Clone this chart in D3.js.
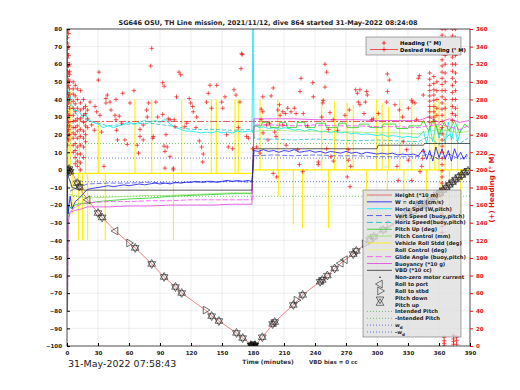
<!DOCTYPE html>
<html>
<head>
<meta charset="utf-8">
<script src="https://d3js.org/d3.v7.min.js"></script>
<style>
  body { margin: 0; background: #fff; }
  text { font-family: "DejaVu Sans", sans-serif; }
</style>
</head>
<body>
<div id="chart"></div>
<script>
// ---- data (time in minutes) ----
var depthT = [0, 3, 6, 10, 15, 20, 30, 34, 47, 60, 66, 82, 94, 105, 111, 134, 140, 147, 164, 170, 176, 180, 184, 189, 201, 210, 219, 228, 238, 247, 259, 268, 277, 293, 306, 325, 340, 348, 361, 375, 387];
var depthV = [0, 0, -3, -7.5, -13, -17, -24.5, -27, -34.7, -41.5, -44.3, -53.4, -60.8, -66.5, -69.9, -79.6, -83, -85.8, -92.6, -95.5, -98, -100, -98.5, -95, -86.4, -81.5, -76.7, -71, -66.5, -62.5, -56, -51.5, -47.8, -39.8, -34, -26.7, -21.5, -19, -13, -6.5, 0];

var wT = [0, 1, 2, 3, 5, 8, 12, 15, 18, 20, 25, 30, 35, 40, 45, 50, 55, 60, 65, 70, 75, 80, 85, 90, 95, 100, 105, 110, 115, 120, 125, 130, 135, 140, 145, 150, 155, 160, 165, 170, 175, 179, 181, 185, 190, 195, 200, 205, 210, 215, 220, 225, 230, 235, 240, 245, 250, 255, 260, 265, 270, 275, 280, 285, 290, 295, 300, 305, 310, 315, 320, 325, 330, 335, 340, 345, 348, 351, 354, 357, 360, 363, 366, 369, 372, 375, 378, 381, 384, 387];
var wV = [0, -25, -20, -15, -22, -18, -16, -14, -12, -11, -10.5, -10, -9.5, -9, -9.5, -9, -8.5, -9, -8.5, -8, -8.5, -8, -7.5, -8, -7.5, -8, -7, -7.5, -7, -7, -6.5, -7, -6.5, -6.5, -7, -6.5, -6, -6.5, -6, -6.5, -6, -6.5, 11, 10.5, 11.5, 10.5, 11, 10, 11, 10.5, 11.5, 10, 10.5, 11, 10, 10.5, 9.5, 10.5, 10, 9.5, 10.5, 9.5, 10, 9, 10, 9.5, 9, 9.5, 9, 9.5, 8.5, 9, 8.5, 9, 8, 12, 6, 11, 5, 13, 7, 12, 6, 11, 5, 12, 7, 10, 6, 9];

var vsT = [3, 10, 20, 40, 60, 80, 100, 120, 140, 160, 179, 181, 200, 220, 240, 260, 280, 300, 320, 340, 350, 360, 370, 380, 388];
var vsV = [-12, -10, -8, -7.5, -7.5, -7, -7.5, -7, -7, -6.5, -7, 8, 8.5, 8, 8.5, 8, 8, 7.5, 7.5, 7.5, 9, 6, 9, 6, 8];

var hsT = [0, 1, 2, 3, 5, 8, 12, 15, 18, 20, 25, 30, 35, 40, 45, 50, 55, 60, 65, 70, 75, 80, 85, 90, 95, 100, 105, 110, 115, 120, 125, 130, 135, 140, 145, 150, 155, 160, 165, 170, 175, 179, 180, 181, 183, 186, 190, 195, 200, 205, 210, 215, 220, 225, 230, 235, 240, 245, 250, 255, 260, 265, 270, 275, 280, 285, 290, 295, 300, 305, 310, 315, 320, 325, 330, 335, 340, 345, 348, 351, 354, 357, 360, 363, 366, 369, 372, 375, 378, 381, 384, 387];
var hsV = [30, 45, 38, 42, 36, 34, 33, 30, 32, 29, 27, 26, 24, 25, 24, 25, 26, 27, 26, 27, 28, 27, 28, 27, 29, 26, 24, 23, 22, 22, 21.5, 21, 21.5, 21, 22, 21, 21.5, 21, 22, 21.5, 22, 22, 85, 24, 25, 24, 24.5, 23.5, 24, 23, 24, 23.5, 22.5, 23, 22, 23, 22.5, 21.5, 22, 21, 22, 21, 21.5, 20.5, 21, 20, 20.5, 20, 19.5, 20, 19, 19.5, 19, 18.5, 19, 18.5, 18.5, 22, 15, 25, 16, 26, 18, 24, 15, 27, 17, 25, 16, 23];

var hbT = [2, 10, 20, 40, 60, 80, 100, 120, 140, 160, 179, 182, 200, 220, 240, 260, 280, 300, 320, 340, 350, 360, 370, 380, 388];
var hbV = [38, 31, 28, 25, 26, 26.5, 25, 23, 23, 22.5, 23, 17.5, 17.5, 17, 17.5, 17, 16.5, 17, 16.5, 16, 19, 14, 20, 15, 18];

var pitchT = [0, 0.5, 1, 2, 4, 8, 12, 16, 20, 30, 40, 50, 60, 80, 100, 120, 140, 160, 179, 181, 188, 189, 196, 197, 205, 206, 212, 213, 222, 223, 230, 231, 240, 241, 250, 251, 262, 263, 270, 271, 282, 283, 292, 293, 305, 306, 318, 319, 330, 331, 342, 345, 350, 355, 360, 365, 370, 375, 380, 385, 389];
var pitchV = [0, -80, -25, -20, -22, -20, -19, -19, -19, -18, -17.5, -17, -16.5, -16, -15, -14.5, -14, -13.5, -13.5, 25, 25, 27, 27, 24, 24, 27, 27, 24, 24, 27, 27, 24, 24, 26.5, 26.5, 24, 24, 26.5, 26.5, 24, 24, 26, 26, 24, 24, 26, 26, 23.5, 23.5, 25, 25, 28, 22, 29, 20, 27, 22, 28, 21, 26, 24];

var pcT = [2, 20, 40, 60, 80, 100, 120, 140, 160, 179, 181, 200, 220, 240, 260, 280, 300, 320, 340, 360, 380, 389];
var pcV = [-14, -16, -15.5, -15, -14.5, -14.5, -14, -13.5, -13, -13, 22, 22.5, 22, 22, 21.5, 21.5, 21, 21, 20.5, 23, 21, 22];

var glideT = [0, 0.5, 1, 3, 8, 15, 25, 40, 60, 80, 100, 120, 140, 160, 179, 181, 200, 220, 240, 260, 280, 300, 320, 340, 360, 380, 389];
var glideV = [0, -75, -28, -24, -21, -19, -18.5, -18, -18, -17.5, -17.5, -17, -17, -17, -17, 25.5, 25.5, 25, 25.5, 25, 25, 24.5, 24.5, 24, 26, 23, 25];

var buoyT = [0, 0.5, 1, 3, 8, 15, 20, 40, 60, 80, 100, 120, 140, 160, 179, 181, 200, 220, 240, 260, 280, 300, 320, 340, 350, 360, 370, 380, 389];
var buoyV = [0, -78, -30, -24, -23, -22, -21, -21, -20.5, -20.5, -20, -20, -20, -19.5, -19.5, 29, 29, 29, 28.5, 28.5, 28.5, 28, 28, 28, 30, 27, 29, 27, 28];

var vbdT = [0, 2, 5, 10, 18, 179, 180.5, 300, 301, 345, 346, 390];
var vbdV = [0, -5, -10, -11, -11.5, -11.5, 12, 12, 14, 14, 15, 15];

var rollBaseT = [0, 20, 179, 181, 390];
var rollBaseV = [-2, -2, -2, 0, 0];
var rollSpikeT = [1, 3, 5, 11, 12, 15, 18, 20, 30.3, 37, 65.8, 82, 103, 111, 139.6, 144.5, 162.6, 165.8, 186.8, 204, 204.5, 219, 228, 246.5, 253, 259, 271, 277, 290, 299.7, 305, 310, 311, 322, 326, 333.6, 348, 351, 356, 360, 362, 366, 370, 372, 378, 381];
var rollSpikeV = [35, 45, -25, -40, 30, -40, 38, -40, 27, -40, 40, 40, -40, 40, 40, 40, 40, 40, 40, 40, -15, -31, -33, 40, -33, 39, 38, 37, -20, 40, 38, -12, 36, 40, -22, 41, -25, 37, 38, 40, -26, 38, -28, 39, 37, -25];

var intendedPitch = 15;
var wd = 6.7;

// heading (deg M) samples
var headT = [82, 81, 31, 30.3, 108.4, 110, 169, 168.4, 92.6, 94, 86, 79, 77, 77.7, 64.8, 61, 53.9, 47.4, 39, 37.7, 41.6, 42.6, 46.4, 50.6, 47.4, 52.9, 48, 48.9, 56, 58.3, 68, 69.2, 70.6, 70.6, 73.8, 83.5, 83, 87.8, 92.6, 98, 95.8, 97, 99.7, 102.9, 106, 104.5, 114, 115.8, 118.3, 119.7, 121.6, 122.2, 125.5, 124.8, 128, 130.3, 131.9, 131.3, 135, 136.7, 138.4, 144.9, 140, 150.7, 152.9, 149.7, 154.5, 156.1, 160.3, 161.6, 163.5, 167.4, 165.8, 173.9, 175.5, 28.7, 31.9, 37.7, 22.3, 27.1, 23.9, 26.4, 33.5, 35.8, 73.8, 93.9, 94.8, 94.8, 102.9, 103.8, 99.7, 169.6, 179.7, 183.6, 186.8, 189.7, 194.5,
  199.6, 197.6, 189.5, 187.9, 204, 205.6, 206.2, 208.8, 211.3, 213.6, 216.8, 220, 221.7, 226.5, 225.5, 228.7, 237.8, 238.4, 249.7, 251.3, 249.7, 248, 247.5, 246.5, 254.5, 257.7, 261.9, 252.9, 251.3, 255.2, 257.7, 243.2, 243.2, 279.4, 281, 283.5, 281.9, 283.5, 290, 290.6, 288.7, 287.4, 269, 273.2, 294.8, 296.4, 301.3, 310, 311.9, 310.3, 309.3, 317.4, 321.6, 324.8, 330.3, 333.6, 334.5, 340, 341, 344.8, 336.8, 338.4, 319.4, 325.4, 328.7, 330.3, 320.6, 333.6, 341.6, 343.3, 344.2, 344.8, 272.2, 272.2, 274.5, 271.2, 273.9, 199.6, 202.9, 202.3, 189.5, 187.9, 223.3, 224.9, 228.1, 232.9, 212, 208.8, 193.3, 196, 201];
var headV = [338, 318, 311, 302, 311, 308, 332, 315, 299, 295, 277, 276, 268, 260, 290, 276, 287, 280, 285, 281, 277, 268, 262, 261, 257, 253, 245, 234, 234, 229, 228, 219, 238, 246, 251, 238, 236, 260, 263, 258, 240, 226, 215, 202, 283, 249, 249, 253, 281, 276, 272, 266, 260, 248, 233, 226, 218, 209, 277, 287, 296, 296, 270, 270, 283, 277, 240, 226, 224, 291, 285, 277, 248, 238, 236, 266, 262, 276, 277, 272, 251, 245, 243, 204, 234, 227, 221, 202, 200, 257, 257, 331, 224, 226, 219, 242, 234,
  293, 284, 266, 257, 268, 274, 262, 266, 264, 270, 266, 270, 264, 304, 289, 264, 299, 283, 320, 311, 294, 279, 276, 260, 265, 257, 245, 246, 224, 215, 210, 209, 206, 291, 287, 291, 277, 274, 289, 285, 277, 264, 262, 268, 257, 258, 264, 309, 302, 289, 277, 274, 268, 260, 270, 279, 277, 304, 307, 285, 276, 257, 204, 232, 223, 211, 188, 188, 198, 204, 213, 221, 223, 211, 204, 192, 181, 196, 192, 238, 283, 269, 223, 206, 198, 250, 228, 251, 251, 253, 243];

// heading while at the surface (start and end of dive)
var surfT = [0.5, 0.5, 0.5, 0.5, 0.5, 0.5, 0.5, 0.5, 0.5, 0.5, 0.5, 0.5, 0.5, 0.5, 0.5, 0.5, 0.5, 0.5, 0.5, 0.5, 0.5,
  1.5, 1.5, 1.5, 1.5, 1.5, 1.5, 1.5, 1.5, 1.5, 1.5, 1.5, 1.5, 1.5, 1.5,
  2.5, 2.5, 2.5, 2.5, 2.5, 2.5, 2.5, 2.5, 2.5, 2.5, 2.5,
  6, 6, 6, 6, 6, 6, 6, 6, 6, 6, 6, 6,
  8, 8, 8, 8, 8, 8, 8, 8, 8, 8, 8,
  10, 10, 10, 10, 10, 10, 10, 10, 10, 10, 10,
  13, 13, 13, 13, 13, 13, 13, 13, 13, 13,
  16, 16, 16, 16, 16, 16, 16, 16,
  18, 18, 18, 18, 18,
  20, 20, 20,
  351, 351, 351, 351, 351, 351, 351, 351, 351, 351,
  355, 355, 355, 355, 355, 355, 355, 355, 355,
  358, 358, 358, 358, 358,
  363, 363, 363, 363, 363, 363, 363, 363, 363, 363, 363, 363, 363, 363, 363, 363, 363, 363, 363, 363, 363, 363, 363, 363, 363, 363, 363, 363, 363, 363, 363, 363, 363, 363,
  365, 365, 365, 365,
  366, 366, 366, 366, 366, 366, 366, 366, 366, 366,
  373, 373, 373, 373, 373, 373, 373, 373, 373, 373, 373, 373, 373, 373,
  374, 374, 374, 374,
  376, 376, 376, 376, 376, 376, 376, 376, 376, 376, 376,
  377, 377, 377];
var surfV = [358, 350, 344, 337, 332, 327, 322, 318, 312, 306, 300, 294, 288, 280, 272, 266, 258, 250, 244, 236, 228,
  355, 340, 330, 318, 310, 302, 296, 284, 276, 262, 254, 246, 240, 234,
  320, 312, 308, 300, 292, 286, 280, 270, 262, 250, 240,
  300, 292, 286, 278, 270, 262, 255, 248, 242, 236, 228, 220,
  296, 284, 275, 266, 256, 248, 240, 230, 222, 214, 207,
  292, 280, 270, 258, 250, 244, 236, 226, 218, 210, 204,
  290, 276, 268, 258, 246, 238, 228, 218, 208, 200,
  280, 270, 262, 254, 244, 236, 226, 214,
  272, 264, 250, 240, 232,
  268, 258, 248,
  310, 303, 296, 290, 284, 278, 272, 266, 260, 254,
  306, 298, 291, 285, 279, 272, 266, 260, 255,
  300, 290, 280, 270, 262,
  360, 353, 346, 339, 332, 325, 318, 311, 304, 297, 290, 283, 276, 269, 262, 255, 248, 241, 234, 227, 220, 213, 206, 199, 192, 185, 178, 171, 164, 157, 150, 143, 136, 129,
  10, 6, 3, 0,
  360, 350, 340, 330, 320, 310, 300, 290, 280, 270,
  360, 352, 344, 336, 328, 320, 312, 304, 296, 288, 280, 272, 264, 256,
  12, 8, 5, 2,
  360, 350, 340, 330, 320, 310, 300, 290, 280, 270, 262,
  10, 6, 2];

var desiredT = [0, 362];
var desiredV = [255, 255];

// pitch / roll event markers on the depth trace
var pitchMarkT = [0, 1, 2, 3, 10, 12, 30, 34, 66, 82, 94, 105, 111, 140, 147, 164, 170, 189, 199, 201, 219, 228, 245, 247, 252, 259, 277, 280, 293, 297, 306, 325, 330, 335, 340, 343, 346, 349, 352, 355, 358, 361, 364, 367, 370, 373, 376, 379, 382, 385, 388];
var pitchMarkV = [0, -0.5, 0.5, -1, -7.5, -9.5, -24.5, -27, -44.3, -53.4, -60.8, -66.5, -69.9, -83, -85.8, -92.6, -95.5, -95, -87.5, -86.4, -76.7, -71, -63.5, -62.5, -60, -56, -47.8, -46, -39.8, -38, -34, -26.7, -25, -23.5, -21.5, -20.5, -19.5, -18.5, -17, -15.5, -14, -13, -11.5, -10, -8.5, -7, -5.5, -4, -3, -1.5, -0.5];
var rollPortT = [20, 47, 265, 269];
var rollPortV = [-17, -34.7, -53, -51];
var rollStbdT = [60, 134, 222, 288, 312];
var rollStbdV = [-41.5, -79.6, -74, -42, -31];
var bottomT = [178, 179, 180, 181, 182];
var bottomV = [-99.5, -100, -100, -100, -99.5];

// ---- layout ----
var W = 520, H = 390;
var svg = d3.select("#chart").append("svg").attr("width", W).attr("height", H);

var x = d3.scaleLinear().domain([0, 390]).range([67, 470]);
var yL = d3.scaleLinear().domain([-100, 80]).range([346, 29]);
var yR = d3.scaleLinear().domain([0, 360]).range([346, 29]);

svg.append("clipPath").attr("id", "clip").append("rect")
  .attr("x", 67).attr("y", 29).attr("width", 403).attr("height", 317);

// grid
var grid = svg.append("g");
grid.selectAll(".gx").data(d3.range(30, 390, 30)).enter().append("line")
  .attr("x1", d => x(d)).attr("x2", d => x(d)).attr("y1", 29).attr("y2", 346)
  .attr("stroke", "#e2e2e2").attr("stroke-width", 0.6);
grid.selectAll(".gy").data(d3.range(-90, 80, 10)).enter().append("line")
  .attr("x1", 67).attr("x2", 470).attr("y1", d => yL(d)).attr("y2", d => yL(d))
  .attr("stroke", "#e2e2e2").attr("stroke-width", 0.6);

var plot = svg.append("g").attr("clip-path", "url(#clip)");

function drawLine(ts, vs, color, width, dash, ys) {
  var pts = ts.map((t, i) => [t, vs[i]]);
  var line = d3.line().x(d => x(d[0])).y(d => (ys || yL)(d[1]));
  plot.append("path").attr("d", line(pts)).attr("fill", "none")
    .attr("stroke", color).attr("stroke-width", width)
    .attr("stroke-dasharray", dash || null);
}

// roll (yellow) spikes
plot.selectAll(".spike").data(rollSpikeT).enter().append("line")
  .attr("x1", d => x(d)).attr("x2", d => x(d))
  .attr("y1", (d, i) => yL(d < 180 ? -2 : 0)).attr("y2", (d, i) => yL(rollSpikeV[i]))
  .attr("stroke", "#ffee00").attr("stroke-width", 1.1);
drawLine(rollBaseT, rollBaseV, "#ffee00", 1.2);

// reference lines
[intendedPitch, -intendedPitch].forEach(v => drawLine([0, 390], [v, v], "#55bb55", 0.8, "1,2"));
[wd, -wd].forEach(v => drawLine([0, 390], [v, v], "#4a5ad8", 0.8, "1,2"));

drawLine(desiredT, desiredV, "#e03030", 0.8, "7,2,2,2", yR);

drawLine(hbT, hbV, "#00b8c8", 0.7, "4,2");
drawLine(hsT, hsV, "#00e8f0", 0.8);
drawLine(pcT, pcV, "#90e060", 0.7);
drawLine(pitchT, pitchV, "#22cc22", 0.8);
drawLine(glideT, glideV, "#ff40ff", 0.8, "5,2");
drawLine(buoyT, buoyV, "#e040e0", 0.8);
drawLine(vsT, vsV, "#3344ee", 0.7, "5,2");
drawLine(wT, wV, "#1010f0", 0.8);
drawLine(vbdT, vbdV, "#333333", 0.8);
drawLine(depthT, depthV, "#e85050", 0.7);

// heading markers (+)
var plus = "M-2.2,0H2.2M0,-2.2V2.2";
function plusMarks(ts, vs) {
  plot.append("g").selectAll("path").data(ts).enter().append("path")
    .attr("d", plus)
    .attr("transform", (d, i) => "translate(" + x(d) + "," + yR(vs[i]) + ")")
    .attr("stroke", "#ee1111").attr("stroke-width", 0.7).attr("fill", "none");
}
plusMarks(headT, headV);
plusMarks(surfT, surfV);

// event markers
var tri = d3.symbol().type(d3.symbolTriangle).size(26);
function triMarks(ts, vs, rot, fill) {
  plot.append("g").selectAll("path").data(ts).enter().append("path")
    .attr("d", tri())
    .attr("transform", (d, i) => "translate(" + x(d) + "," + yL(vs[i]) + ") rotate(" + rot + ")")
    .attr("fill", fill || "none").attr("stroke", "#222").attr("stroke-width", 0.65);
}
triMarks(pitchMarkT, pitchMarkV, 0);
triMarks(pitchMarkT, pitchMarkV, 180);
triMarks(rollPortT, rollPortV, -90);
triMarks(rollStbdT, rollStbdV, 90);
triMarks(bottomT, bottomV, 0, "#111");
triMarks(bottomT, bottomV, 180, "#111");

// frame
svg.append("rect").attr("x", 67).attr("y", 29).attr("width", 403).attr("height", 317)
  .attr("fill", "none").attr("stroke", "#222").attr("stroke-width", 0.8);

// axes
var axL = svg.append("g").attr("transform", "translate(67,0)")
  .call(d3.axisLeft(yL).tickValues(d3.range(-100, 81, 10)).tickSize(-3).tickPadding(5));
var axB = svg.append("g").attr("transform", "translate(0,346)")
  .call(d3.axisBottom(x).tickValues(d3.range(0, 391, 30)).tickSize(-3).tickPadding(5));
var axR = svg.append("g").attr("transform", "translate(470,0)")
  .call(d3.axisRight(yR).tickValues(d3.range(0, 361, 20)).tickSize(3).tickPadding(3));
[axL, axB, axR].forEach(a => {
  a.select(".domain").remove();
  a.selectAll("text").attr("font-size", 5.5).attr("font-weight", "bold")
    .attr("font-family", "DejaVu Sans, sans-serif");
});
axL.selectAll("text").attr("fill", "#222");
axB.selectAll("text").attr("fill", "#222");
axR.selectAll("line").attr("stroke", "#dd1111");
axR.selectAll("text").attr("fill", "#dd1111");

// texts
svg.append("text").attr("x", 268).attr("y", 25).attr("text-anchor", "middle")
  .attr("font-size", 6.5).attr("font-weight", "bold").attr("fill", "#222")
  .text("SG646 OSU, TH Line mission, 2021/11/12, dive 864 started 31-May-2022 08:24:08");
svg.append("text").attr("x", 268).attr("y", 364).attr("text-anchor", "middle")
  .attr("font-size", 6).attr("font-weight", "bold").attr("fill", "#333")
  .text("Time (minutes)");
svg.append("text").attr("x", 309).attr("y", 364)
  .attr("font-size", 5.5).attr("font-weight", "bold").attr("fill", "#333")
  .text("VBD bias = 0 cc");
svg.append("text").attr("x", 68).attr("y", 367)
  .attr("font-size", 9.5).attr("fill", "#222")
  .text("31-May-2022 07:58:43");
svg.append("text").attr("transform", "translate(494,188) rotate(-90)").attr("text-anchor", "middle")
  .attr("font-size", 7).attr("font-weight", "bold").attr("fill", "#dd1111")
  .text("(+) Heading (\u00b0 M)");

// heading legend
var lg1 = svg.append("g");
lg1.append("rect").attr("x", 366).attr("y", 37).attr("width", 95).attr("height", 18)
  .attr("fill", "#e6e6e6").attr("stroke", "#555").attr("stroke-width", 0.5);
lg1.append("path").attr("d", plus).attr("transform", "translate(384,43)")
  .attr("stroke", "#ee1111").attr("stroke-width", 0.8);
lg1.append("line").attr("x1", 370).attr("x2", 398).attr("y1", 49.5).attr("y2", 49.5)
  .attr("stroke", "#ee1111").attr("stroke-width", 0.7);
lg1.append("path").attr("d", plus).attr("transform", "translate(384,49.5)")
  .attr("stroke", "#ee1111").attr("stroke-width", 0.8);
lg1.append("text").attr("x", 400).attr("y", 45).attr("font-size", 5.3).attr("font-weight", "bold").text("Heading (\u00b0 M)");
lg1.append("text").attr("x", 400).attr("y", 51.5).attr("font-size", 5.3).attr("font-weight", "bold").text("Desired Heading (\u00b0 M)");

// main legend
var items = [
  { label: "Height (*10 m)", color: "#e85050" },
  { label: "W = dz/dt (cm/s)", color: "#1010f0" },
  { label: "Horiz Spd (W,pitch)", color: "#00e8f0" },
  { label: "Vert Speed (buoy,pitch)", color: "#3344ee", dash: "6,3" },
  { label: "Horiz Speed(buoy,pitch)", color: "#00b8c8", dash: "6,3" },
  { label: "Pitch Up (deg)", color: "#22cc22" },
  { label: "Pitch Control (mm)", color: "#90e060" },
  { label: "Vehicle Roll Stdd (deg)", color: "#ffee00" },
  { label: "Roll Control (deg)", color: "#f4f07a" },
  { label: "Glide Angle (buoy,pitch)", color: "#ff40ff", dash: "6,3" },
  { label: "Buoyancy (*10 g)", color: "#e040e0" },
  { label: "VBD (*10 cc)", color: "#333333" },
  { label: "Non-zero motor current", mark: "dot" },
  { label: "Roll to port", mark: -90 },
  { label: "Roll to stbd", mark: 90 },
  { label: "Pitch down", mark: 180 },
  { label: "Pitch up", mark: 0 },
  { label: "Intended Pitch", color: "#55bb55", dash: "1,2" },
  { label: "-Intended Pitch", color: "#55bb55", dash: "1,2" },
  { label: "w", sub: "d", color: "#4a5ad8", dash: "1,2" },
  { label: "-w", sub: "d", color: "#4a5ad8", dash: "1,2" }
];
var lg2 = svg.append("g");
lg2.append("rect").attr("x", 363).attr("y", 190).attr("width", 98).attr("height", 147)
  .attr("fill", "#dedede").attr("fill-opacity", 0.78).attr("stroke", "#555").attr("stroke-width", 0.5);
items.forEach((it, i) => {
  var yy = 195 + i * 6.85;
  if (it.mark === "dot") {
    lg2.append("circle").attr("cx", 380).attr("cy", yy).attr("r", 0.8).attr("fill", "#111");
  } else if (it.mark !== undefined) {
    lg2.append("path").attr("d", d3.symbol().type(d3.symbolTriangle).size(26)())
      .attr("transform", "translate(380," + (yy + (it.mark === 180 ? 1.5 : it.mark === 0 ? -1.5 : 0)) + ") rotate(" + it.mark + ")")
      .attr("fill", "none").attr("stroke", "#222").attr("stroke-width", 0.6);
  } else {
    lg2.append("line").attr("x1", 367).attr("x2", 392).attr("y1", yy).attr("y2", yy)
      .attr("stroke", it.color).attr("stroke-width", 0.8).attr("stroke-dasharray", it.dash || null);
  }
  var t = lg2.append("text").attr("x", 395).attr("y", yy + 2).attr("font-size", 5.2)
    .attr("font-weight", "bold").attr("fill", "#222").text(it.label);
  if (it.sub) t.append("tspan").attr("font-size", 4).attr("dy", 1.5).text(it.sub);
});
</script>
</body>
</html>
